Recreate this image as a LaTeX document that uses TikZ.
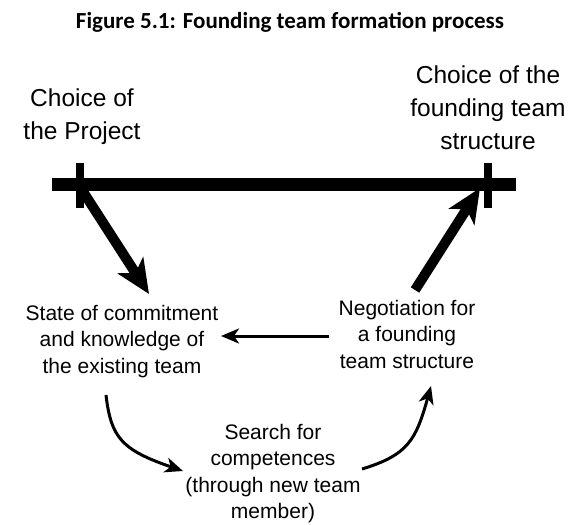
\documentclass[tikz,border=0pt]{standalone}
\usepackage{fontspec}
\setmainfont{Liberation Sans}
\newfontfamily\titlefont{Carlito}
\usetikzlibrary{arrows.meta}
\begin{document}
\begin{tikzpicture}[x=1pt,y=-1pt,
  biglabel/.style={align=center,font=\fontsize{24.5}{33}\selectfont,inner sep=0pt},
  smalllabel/.style={align=center,font=\fontsize{21}{26.5}\selectfont,inner sep=0pt,anchor=north},
  thickarrow/.style={line width=10pt,-{Stealth[length=34pt,width=30pt,inset=9pt]}},
  thinarrow/.style={line width=3pt,-{Stealth[length=18pt,width=15pt,inset=5pt]}},
  barline/.style={line width=13pt},
  tickline/.style={line width=8pt}]
\useasboundingbox (0,0) rectangle (571,525);
\node[font=\titlefont\bfseries\fontsize{23}{27}\selectfont,inner sep=0pt,anchor=base] (title) at (290,28) {Figure 5.1: Founding team formation process};
\node[biglabel] (proj) at (82,117) {Choice of\\the Project};
\node[biglabel] (struct) at (488,108) {Choice of the\\founding team\\structure};
\coordinate (barL) at (52,184);
\coordinate (barR) at (516,184);
\coordinate (tickLt) at (80,163);
\coordinate (tickLb) at (80,208);
\coordinate (tickRt) at (488,163);
\coordinate (tickRb) at (488,208);
\draw[barline] (barL) -- (barR);
\draw[tickline] (tickLt) -- (tickLb);
\draw[tickline] (tickRt) -- (tickRb);
\coordinate (startL) at (82,190);
\coordinate (tipL) at (149,294);
\coordinate (startR) at (415,290);
\coordinate (tipR) at (480,188);
\draw[thickarrow] (startL) -- (tipL);
\draw[thickarrow] (startR) -- (tipR);
\node[smalllabel] (state) at (122,305) {State of commitment\\and knowledge of\\the existing team};
\node[smalllabel] (nego) at (407,300) {Negotiation for\\a founding\\team structure};
\node[smalllabel] (search) at (273,424) {Search for\\competences\\(through new team\\member)};
\coordinate (hs) at (329,336);
\coordinate (he) at (221,336);
\draw[thinarrow] (hs) -- (he);
\coordinate (c1s) at (106,395);
\coordinate (c1e) at (183,471);
\draw[thinarrow] (c1s) .. controls (111,438) and (122,450) .. (c1e);
\coordinate (c2s) at (362,469);
\coordinate (c2e) at (431,386);
\draw[thinarrow] (c2s) .. controls (408,455) and (416,440) .. (c2e);
\end{tikzpicture}
\end{document}
